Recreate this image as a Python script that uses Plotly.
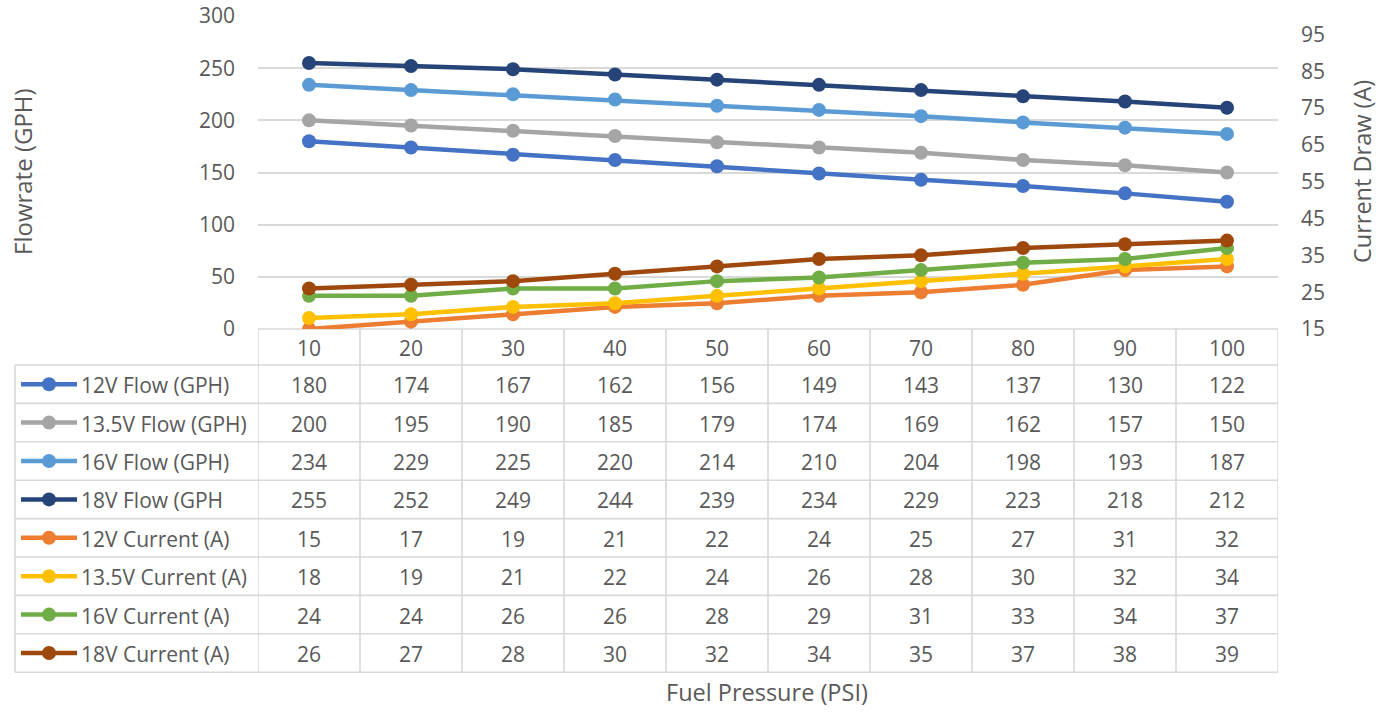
import plotly.graph_objects as go

# ---------------- data ----------------
pressures = [10, 20, 30, 40, 50, 60, 70, 80, 90, 100]
series_names = ["12V Flow (GPH)", "13.5V Flow (GPH)", "16V Flow (GPH)", "18V Flow (GPH",
                "12V Current (A)", "13.5V Current (A)", "16V Current (A)", "18V Current (A)"]
flow_12v = [180, 174, 167, 162, 156, 149, 143, 137, 130, 122]
flow_135v = [200, 195, 190, 185, 179, 174, 169, 162, 157, 150]
flow_16v = [234, 229, 225, 220, 214, 210, 204, 198, 193, 187]
flow_18v = [255, 252, 249, 244, 239, 234, 229, 223, 218, 212]
cur_12v = [15, 17, 19, 21, 22, 24, 25, 27, 31, 32]
cur_135v = [18, 19, 21, 22, 24, 26, 28, 30, 32, 34]
cur_16v = [24, 24, 26, 26, 28, 29, 31, 33, 34, 37]
cur_18v = [26, 27, 28, 30, 32, 34, 35, 37, 38, 39]
left_ticks = [0, 50, 100, 150, 200, 250, 300]
right_ticks = [15, 25, 35, 45, 55, 65, 75, 85, 95]

all_values = [flow_12v, flow_135v, flow_16v, flow_18v, cur_12v, cur_135v, cur_16v, cur_18v]
colors = ["#4472C4", "#A5A5A5", "#5B9BD5", "#264478",
          "#ED7D31", "#FFC000", "#70AD47", "#9E480E"]
axes = ["y", "y", "y", "y", "y2", "y2", "y2", "y2"]

FONT = "Open Sans"
TXT = "#595959"
GRID = "#D9D9D9"
FS = 21
TFS = 23.5

# ---------------- geometry (pixels; page body margin removed via post_script) ----------------
W, H = 1392, 713
L, R, T, B = 258, 1278, 16, 329
PW, PH = R - L, B - T


def px(xp):
    return (xp - L) / PW


def py(yp):
    return (B - yp) / PH


header_bottom = 365
row_h = 38.4
table_left = 15

fig = go.Figure()
for name, vals, col, ax in zip(series_names, all_values, colors, axes):
    fig.add_trace(go.Scatter(
        x=pressures, y=vals, name=name, yaxis=ax, mode="lines+markers",
        line=dict(color=col, width=4.5),
        marker=dict(color=col, size=14),
        showlegend=False, hoverinfo="x+y+name"))

shapes = []
annotations = []
line_style = dict(color=GRID, width=1.6)


def label(x, y, text, xref="paper", size=FS, xanchor="center", angle=0):
    annotations.append(dict(x=x, y=y, xref=xref, yref="paper", text=text, showarrow=False,
                            xanchor=xanchor, yanchor="middle", textangle=angle,
                            font=dict(family=FONT, size=size, color=TXT)))


# table horizontal lines
shapes.append(dict(type="line", xref="paper", yref="paper", x0=0, x1=1,
                   y0=0, y1=0, line=line_style, layer="below"))
for k in range(len(series_names) + 1):
    yy = header_bottom + row_h * k
    shapes.append(dict(type="line", xref="paper", yref="paper", x0=px(table_left), x1=1,
                       y0=py(yy), y1=py(yy), line=line_style))
# table vertical lines (column boundaries on the category scale)
step = pressures[1] - pressures[0]
bounds = [p - step / 2 for p in pressures] + [pressures[-1] + step / 2]
table_bottom = header_bottom + row_h * len(series_names)
for bx in bounds:
    shapes.append(dict(type="line", xref="x", yref="paper", x0=bx, x1=bx,
                       y0=0, y1=py(table_bottom), line=line_style))
shapes.append(dict(type="line", xref="paper", yref="paper", x0=px(table_left), x1=px(table_left),
                   y0=py(header_bottom), y1=py(table_bottom), line=line_style))

# header labels
for p in pressures:
    label(p, py((B + header_bottom) / 2 + 1), str(p), xref="x")

# rows
for i, (name, vals, col) in enumerate(zip(series_names, all_values, colors)):
    cy = header_bottom + row_h * (i + 0.5)
    shapes.append(dict(type="line", xref="paper", yref="paper", x0=px(21), x1=px(77),
                       y0=py(cy), y1=py(cy), line=dict(color=col, width=4.5)))
    r = 7
    shapes.append(dict(type="circle", xref="paper", yref="paper",
                       x0=px(49 - r), x1=px(49 + r), y0=py(cy + r), y1=py(cy - r),
                       fillcolor=col, line=dict(color=col, width=0)))
    label(px(79), py(cy + 1), name, xanchor="left")
    for p, v in zip(pressures, vals):
        label(p, py(cy + 1), str(v), xref="x")

# axis titles
label(px(22), py(172), "Flowrate (GPH)", size=24, angle=-90)
label(px(1362), py(172), "Current Draw (A)", size=TFS, angle=-90)
label(px(767), py(692), "Fuel Pressure (PSI)", size=TFS)

fig.update_layout(
    width=W, height=H,
    margin=dict(l=L, r=W - R, t=T, b=H - B, pad=0, autoexpand=False),
    paper_bgcolor="white", plot_bgcolor="white",
    font=dict(family=FONT, size=FS, color=TXT),
    xaxis=dict(range=[bounds[0], bounds[-1]], showgrid=False, zeroline=False,
               showticklabels=False, ticks="", showline=False, automargin=False),
    yaxis=dict(range=[0, 300], tickvals=left_ticks, showgrid=True, gridcolor=GRID, gridwidth=1.6,
               zeroline=False, showline=False, ticks="", ticklabelstandoff=22, automargin=False,
               ticklabeloverflow="allow",
               tickfont=dict(family=FONT, size=FS, color=TXT)),
    yaxis2=dict(range=[15, 100], tickvals=right_ticks, overlaying="y", side="right",
                showgrid=False, zeroline=False, showline=False, ticks="", ticklabelstandoff=22,
                automargin=False, ticklabeloverflow="allow",
                tickfont=dict(family=FONT, size=FS, color=TXT)),
    shapes=shapes, annotations=annotations, showlegend=False,
)

fig.write_html("out.html", config={"displayModeBar": False},
               post_script="document.body.style.margin='0';document.body.style.overflow='hidden';")
